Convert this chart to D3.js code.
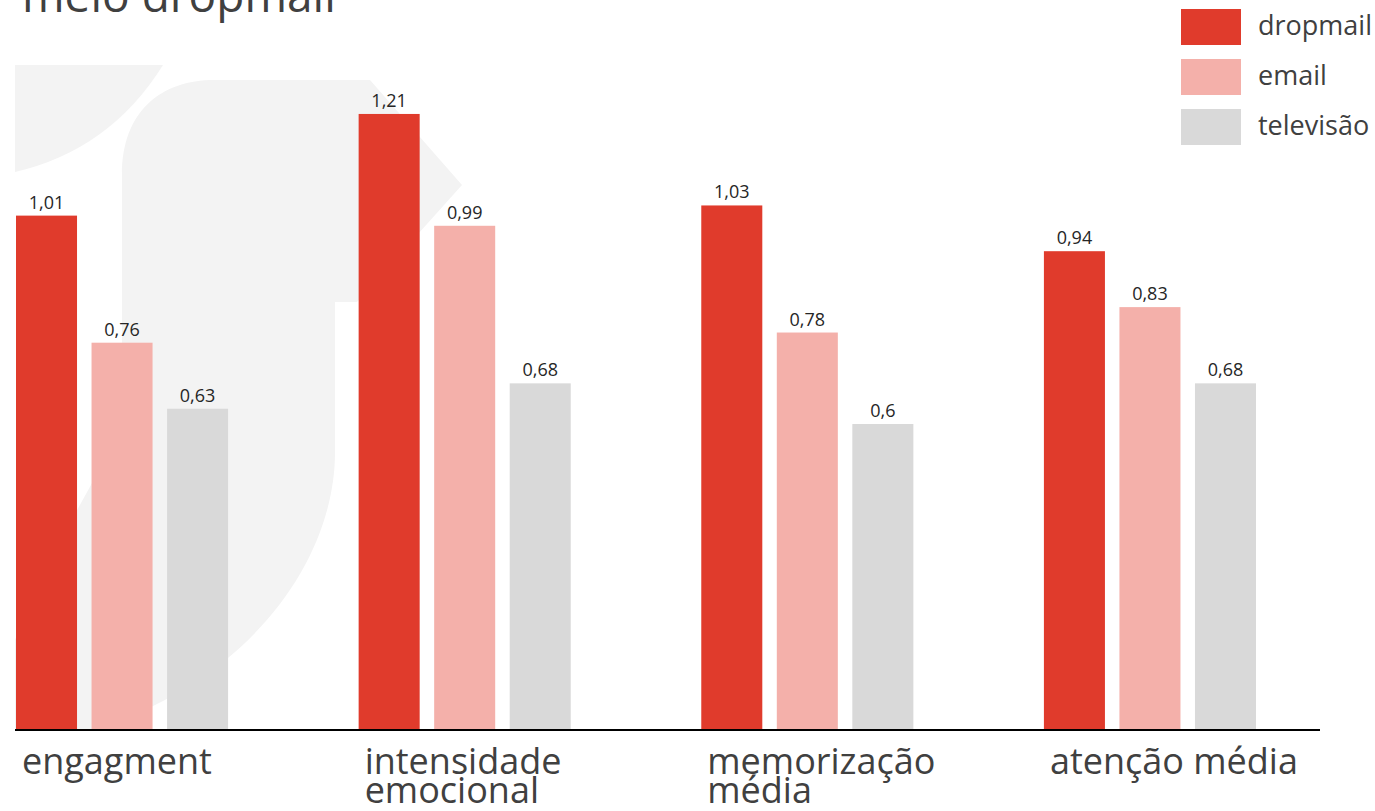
<!DOCTYPE html>
<html>
<head>
<meta charset="utf-8">
<script src="https://cdn.jsdelivr.net/npm/d3@7"></script>
<style>
  html, body { margin: 0; padding: 0; background: #fff; }
  svg { display: block; }
</style>
</head>
<body>
<svg class="chart" width="1375" height="811"></svg>
<script>
// data
var categories = ["engagment", "intensidade\nemocional", "memorização\nmédia", "atenção média"];
var seriesNames = ["dropmail", "email", "televisão"];
var dropmail = [1.01, 1.21, 1.03, 0.94];
var email = [0.76, 0.99, 0.78, 0.83];
var televisao = [0.63, 0.68, 0.6, 0.68];
var colors = ["#e03b2c", "#f4b0aa", "#d9d9d9"];

var svg = d3.select(".chart"),
    baseY = 729;

var fmt = d3.formatLocale({decimal: ",", thousands: ".", grouping: [3], currency: ["", ""]}).format("~g");

var rows = categories.map(function(c, i) {
  return {cat: c, values: [dropmail[i], email[i], televisao[i]]};
});

var x0 = d3.scaleBand().domain(categories).range([16, 1256]).paddingInner(0.381).paddingOuter(0),
    x1 = d3.scaleBand().domain(seriesNames).range([0, x0.bandwidth()]).paddingInner(0.192).paddingOuter(0),
    y = d3.scaleLinear().domain([0, 1.4]).range([baseY, baseY - 1.4 * 508.3]),
    z = d3.scaleOrdinal().domain(seriesNames).range(colors);

// faint logo watermark behind the bars
var wm = svg.append("g").attr("fill", "#f3f3f3");
wm.append("path").attr("d", "M15,65 L163,65 Q110,150 15,172 Z");
wm.append("path").attr("d",
  "M122,175 C122,112 160,80 215,80 L370,80 L462,185 L357,302 L335,302 L335,452 " +
  "C335,560 250,680 95,729 L15,729 L15,640 C40,560 90,500 122,420 Z");

// title (cut off at the top like the source)
svg.append("text")
    .attr("x", 22)
    .attr("y", 12)
    .style("font", "46px 'Open Sans', sans-serif")
    .attr("fill", "#404040")
    .text("meio dropmail");

var group = svg.selectAll(".grp")
  .data(rows)
  .enter().append("g")
    .attr("class", "grp")
    .attr("transform", function(d) { return "translate(" + x0(d.cat) + ",0)"; });

var bars = group.selectAll("g")
  .data(function(d) { return d.values.map(function(v, i) { return {key: seriesNames[i], value: v}; }); })
  .enter().append("g");

bars.append("rect")
    .attr("x", function(d) { return x1(d.key); })
    .attr("y", function(d) { return y(d.value); })
    .attr("width", x1.bandwidth())
    .attr("height", function(d) { return baseY - y(d.value); })
    .attr("fill", function(d) { return z(d.key); });

bars.append("text")
    .attr("x", function(d) { return x1(d.key) + x1.bandwidth() / 2; })
    .attr("y", function(d) { return y(d.value) - 7; })
    .attr("text-anchor", "middle")
    .style("font", "18px 'Open Sans', sans-serif")
    .attr("fill", "#262626")
    .text(function(d) { return fmt(d.value); });

// baseline
svg.append("line")
    .attr("x1", 15).attr("x2", 1320)
    .attr("y1", baseY + 1).attr("y2", baseY + 1)
    .attr("stroke", "#000")
    .attr("stroke-width", 2);

// category labels
var lab = svg.selectAll(".cat")
  .data(categories)
  .enter().append("text")
    .attr("class", "cat")
    .attr("y", 774)
    .style("font", "36px 'Open Sans', sans-serif")
    .attr("fill", "#404040");

lab.selectAll("tspan")
  .data(function(d) { return d.split("\n").map(function(t) { return {cat: d, t: t}; }); })
  .enter().append("tspan")
    .attr("x", function(d) { return x0(d.cat) + 6; })
    .attr("dy", function(d, i) { return i ? 29 : 0; })
    .text(function(d) { return d.t; });

// legend
var leg = svg.selectAll(".leg")
  .data(seriesNames)
  .enter().append("g")
    .attr("class", "leg")
    .attr("transform", function(d, i) { return "translate(1181," + (9 + i * 50) + ")"; });

leg.append("rect")
    .attr("width", 60)
    .attr("height", 36)
    .attr("fill", function(d) { return z(d); });

leg.append("text")
    .attr("x", 77)
    .attr("y", 26)
    .style("font", "27px 'Open Sans', sans-serif")
    .attr("fill", "#404040")
    .text(function(d) { return d; });
</script>
</body>
</html>
